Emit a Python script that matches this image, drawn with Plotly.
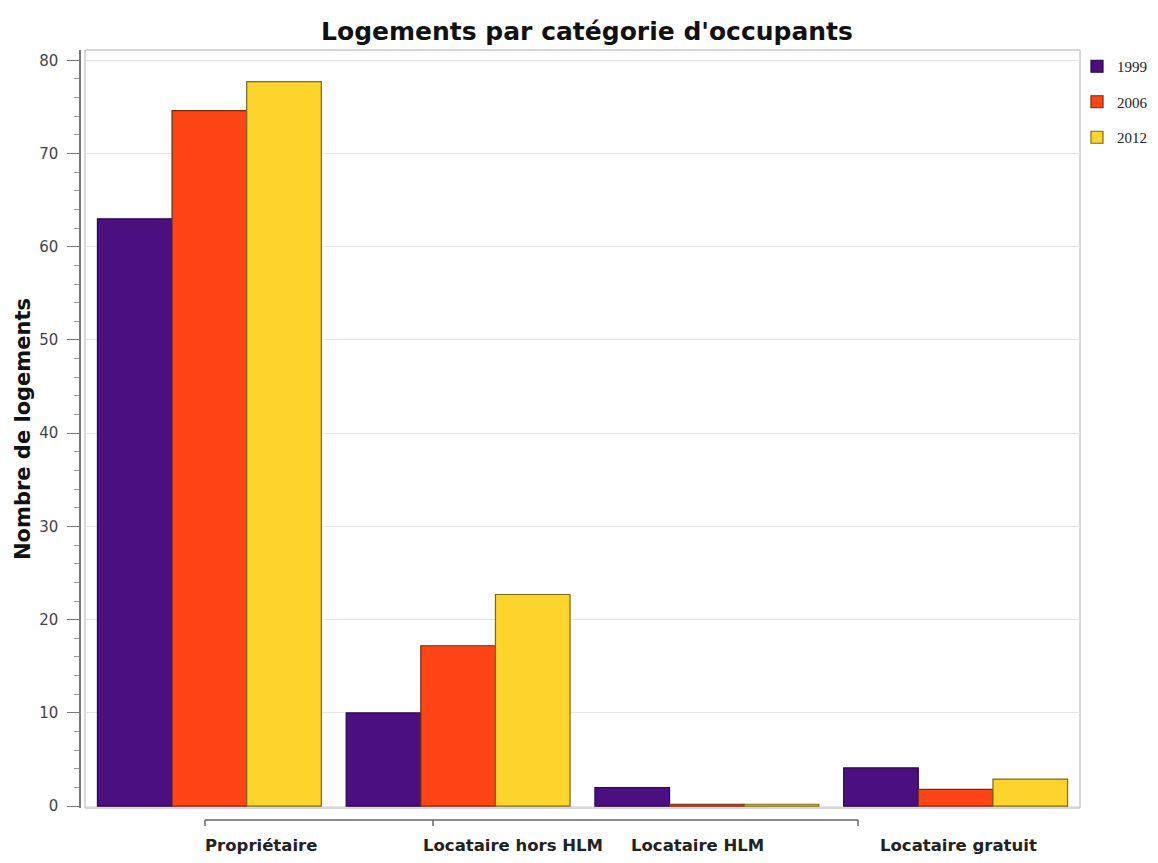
import plotly.graph_objects as go

categories = ["Propriétaire", "Locataire hors HLM", "Locataire HLM", "Locataire gratuit"]
years = ["1999", "2006", "2012"]
v1999 = [63.0, 10.0, 2.0, 4.1]
v2006 = [74.6, 17.2, 0.2, 1.8]
v2012 = [77.7, 22.7, 0.2, 2.9]
series_values = [v1999, v2006, v2012]

colors = ["#4B0F80", "#FF4516", "#FDD42B"]
edge_colors = ["#2a0648", "#7a2a10", "#7a6a1a"]
label_shifts = [52, 55, -9, 3]

W, H = 1158, 863
L, R, T, B = 78, 78, 50, 55
plot_w = W - L - R
x_dom0 = (85 - L) / plot_w

fig = go.Figure()
for i, (yr, vals) in enumerate(zip(years, series_values)):
    fig.add_trace(go.Bar(
        x=categories, y=vals, name=yr,
        marker=dict(color=colors[i], line=dict(color=edge_colors[i], width=1.2)),
        legendgroup=yr,
    ))

for cat, sh in zip(categories, label_shifts):
    fig.add_annotation(x=cat, xref="x", y=0, yref="paper", yshift=-37,
                       xshift=sh, text="<b>%s</b>" % cat, showarrow=False,
                       yanchor="middle",
                       font=dict(family="DejaVu Sans", size=16.5, color="#222"))

def px_to_paper_x(px):
    return (px - L) / plot_w

def py_to_paper_y(py):
    return (H - B - py) / (H - T - B)

# frame
fig.add_shape(type="rect", xref="paper", yref="paper",
              x0=x_dom0, x1=1, y0=py_to_paper_y(808), y1=1,
              line=dict(color="#b0b0b0", width=1), layer="below")
# x bracket axis line
by = py_to_paper_y(820)
fig.add_shape(type="line", xref="paper", yref="paper",
              x0=px_to_paper_x(205), x1=px_to_paper_x(858), y0=by, y1=by,
              line=dict(color="#666", width=1.5))
for tx in [205, 433, 858]:
    fig.add_shape(type="line", xref="paper", yref="paper",
                  x0=px_to_paper_x(tx), x1=px_to_paper_x(tx), y0=by, y1=py_to_paper_y(826),
                  line=dict(color="#666", width=1.5))

fig.update_layout(
    width=W, height=H,
    margin=dict(l=L, r=R, t=T, b=B, autoexpand=False),
    plot_bgcolor="white", paper_bgcolor="white",
    barmode="group", bargap=0.1, bargroupgap=0.0,
    title=dict(text="<b>Logements par catégorie d'occupants</b>",
               x=587 / W, xref="container", xanchor="center",
               y=1 - 31 / H, yref="container", yanchor="middle",
               font=dict(family="DejaVu Sans", size=25, color="#111")),
    legend=dict(x=1077 / W, xref="container", y=1 - 50 / H, yref="container",
                xanchor="left", yanchor="top",
                font=dict(family="Liberation Serif", size=15, color="#222"),
                tracegroupgap=13, itemwidth=30, bgcolor="rgba(0,0,0,0)"),
    xaxis=dict(domain=[x_dom0, 1], showticklabels=False, ticks="",
               showline=False, showgrid=False, range=[-0.5, 3.5]),
    yaxis=dict(range=[-0.2, 81.1], anchor="free", position=0.002,
               tickvals=[0, 10, 20, 30, 40, 50, 60, 70, 80],
               showline=True, linecolor="#777", linewidth=1.5,
               ticks="outside", ticklen=12, tickcolor="#777", tickwidth=1.2,
               ticklabelstandoff=6,
               minor=dict(dtick=2, ticks="outside", ticklen=5, tickcolor="#999", showgrid=False),
               showgrid=True, gridcolor="#e6e6e6", gridwidth=1,
               zeroline=False,
               tickfont=dict(family="DejaVu Sans", size=15, color="#444"),
               title=dict(text="<b>Nombre de logements</b>", standoff=2,
                          font=dict(family="DejaVu Sans", size=21, color="#111"))),
)

fig.write_html("out.html", config={"displayModeBar": False},
               post_script="document.body.style.margin='0';")
